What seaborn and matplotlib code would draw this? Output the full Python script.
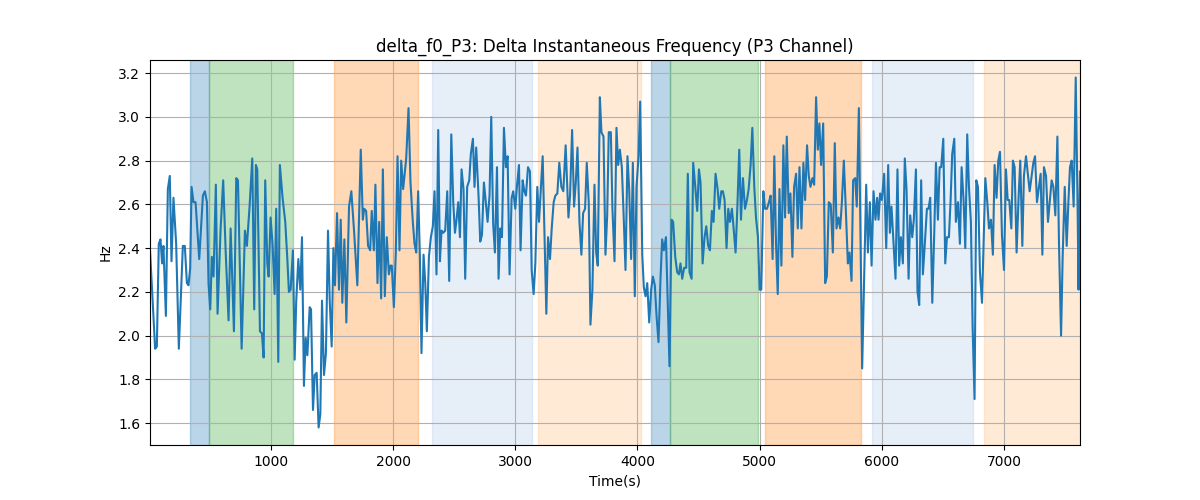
import numpy as np
import pandas as pd
import seaborn as sns
import matplotlib
matplotlib.use("Agg")
import matplotlib.pyplot as plt

# values (time in s, delta f0 in Hz)
times = [
    10, 52, 66, 82, 96, 109, 120, 140, 156, 172, 186, 202, 224, 246, 279, 295, 312, 325, 339, 350,
    366, 383, 413, 443, 459, 476, 489, 503, 516, 530, 549, 563, 588, 609, 629, 653, 670, 697, 716, 730,
    760, 787, 803, 825, 847,
    863, 877, 888, 910, 926, 940, 953, 970, 981, 997, 1013, 1030, 1043, 1060, 1073, 1095, 1117, 1134, 1147, 1161,
    1180, 1194, 1207, 1224, 1240, 1254, 1270, 1284, 1298, 1317, 1328, 1344, 1358, 1374, 1390, 1404, 1418, 1434, 1450, 1467,
    1481, 1497, 1511, 1524, 1541, 1557, 1571, 1584, 1601, 1617, 1639, 1658, 1680, 1707,
    1735, 1752, 1763, 1779, 1795, 1812, 1825, 1842, 1855, 1872, 1886, 1902, 1916, 1932, 1948, 1965, 1978, 1989, 2006, 2022,
    2036, 2052, 2066, 2082, 2107, 2126, 2142, 2161, 2175, 2189, 2205, 2219, 2232, 2249, 2263, 2276, 2293, 2309, 2325, 2339,
    2355, 2369, 2383, 2396, 2410, 2426, 2443, 2459, 2476, 2492, 2506, 2519, 2533, 2547, 2560,
    2576, 2590, 2606, 2623, 2636, 2653, 2666, 2680, 2699, 2713, 2727, 2743, 2757, 2773, 2789, 2803, 2819, 2833, 2850, 2863,
    2877, 2891, 2907, 2923, 2937, 2953, 2970, 2983, 3000, 3013, 3030, 3043, 3060, 3074, 3087, 3104, 3120, 3134, 3150, 3164,
    3180, 3194, 3224, 3237, 3254, 3268, 3284, 3298, 3314, 3328, 3344, 3360, 3377, 3393, 3412,
    3435, 3448, 3465, 3481, 3495, 3509, 3525, 3541, 3555, 3571, 3585, 3601, 3615, 3631, 3648, 3662, 3675, 3692, 3705, 3722,
    3738, 3752, 3765, 3782, 3795, 3812, 3828, 3842, 3856, 3872, 3886, 3902, 3918, 3932, 3948, 3962, 3978, 3992, 4009, 4022,
    4039, 4052, 4066, 4080, 4096, 4112, 4126, 4142, 4156, 4172, 4189, 4202, 4216, 4233, 4249, 4262,
    4279, 4292, 4309, 4325, 4339, 4352, 4366, 4382, 4399, 4412, 4426, 4443, 4456, 4473, 4489, 4503, 4516, 4533, 4549, 4563,
    4579, 4593, 4609, 4623, 4639, 4656, 4669, 4686, 4699, 4713, 4729, 4743, 4757, 4773, 4787, 4803, 4817, 4833, 4847, 4863,
    4880, 4896, 4910, 4926, 4940, 4956, 4970, 4986, 5000, 5013, 5030, 5044, 5060, 5076, 5090, 5106, 5120,
    5134, 5148, 5162, 5178, 5194, 5208, 5222, 5238, 5252, 5268, 5282, 5298, 5312, 5326, 5342, 5358, 5372, 5388, 5402, 5416,
    5432, 5446, 5462, 5476, 5489, 5503, 5520, 5536, 5550, 5566, 5582, 5599, 5615, 5629, 5645, 5659, 5673, 5689, 5705, 5722,
    5735, 5752, 5765, 5782, 5795, 5812, 5826, 5839, 5856, 5872, 5886, 5902, 5916, 5932, 5948, 5962,
    5973, 5986, 6000, 6019, 6036, 6052, 6066, 6079, 6096, 6112, 6128, 6142, 6156, 6172, 6188, 6202, 6219, 6232, 6249, 6262,
    6279, 6292, 6306, 6322, 6336, 6352, 6369, 6382, 6396, 6413, 6429, 6443, 6459, 6473, 6486, 6503, 6519, 6533, 6549, 6563,
    6576, 6593, 6606, 6623, 6639, 6653, 6669, 6683, 6699, 6713, 6729, 6743, 6759, 6773, 6787, 6803, 6820,
    6847, 6863, 6877, 6893, 6909, 6923, 6939, 6953, 6967, 6983, 7000, 7016, 7030, 7043, 7060, 7073, 7087, 7103, 7120, 7133,
    7150, 7163, 7180, 7193, 7210, 7224, 7240, 7254, 7270, 7284, 7300, 7314, 7327, 7344, 7360, 7374, 7390, 7404, 7420, 7437,
    7450, 7467, 7480, 7497, 7513, 7527, 7540, 7554, 7570, 7587, 7603, 7610, 7622,
]
delta_f0 = [
    2.39, 1.94, 1.95, 2.42, 2.44, 2.33, 2.41, 2.09, 2.67, 2.73, 2.34, 2.63, 2.42, 1.94, 2.41, 2.41, 2.24, 2.23, 2.31, 2.68,
    2.61, 2.61, 2.35, 2.64, 2.66, 2.61, 2.24, 2.12, 2.36, 2.27, 2.69, 2.10, 2.49, 2.71, 2.39, 2.07, 2.49, 2.02, 2.72, 2.71,
    1.94, 2.48, 2.41, 2.59, 2.81,
    2.12, 2.78, 2.76, 2.02, 2.01, 1.90, 2.71, 2.33, 2.27, 2.54, 2.42, 2.19, 2.58, 1.88, 2.78, 2.63, 2.52, 2.35, 2.20, 2.21,
    2.39, 1.89, 2.16, 2.35, 2.21, 2.45, 1.77, 1.99, 1.91, 2.13, 2.12, 1.66, 1.82, 1.83, 1.58, 1.64, 2.16, 1.82, 1.92, 2.48,
    2.16, 1.95, 2.40, 2.23, 2.56, 2.21, 2.53, 2.15, 2.44, 2.06, 2.59, 2.66, 2.48, 2.23,
    2.85, 2.53, 2.58, 2.57, 2.41, 2.39, 2.57, 2.39, 2.69, 2.24, 2.52, 2.17, 2.76, 2.18, 2.45, 2.28, 2.32, 2.32, 2.13, 2.38,
    2.82, 2.39, 2.80, 2.67, 2.81, 3.04, 2.70, 2.52, 2.42, 2.38, 2.66, 2.36, 1.92, 2.37, 2.24, 2.02, 2.36, 2.45, 2.50, 2.66,
    2.28, 2.94, 2.34, 2.48, 2.47, 2.48, 2.66, 2.25, 2.92, 2.61, 2.47, 2.53, 2.61, 2.45, 2.76,
    2.67, 2.26, 2.68, 2.71, 2.83, 2.90, 2.68, 2.86, 2.64, 2.43, 2.46, 2.70, 2.62, 2.52, 2.64, 3.00, 2.51, 2.38, 2.77, 2.26,
    2.49, 2.45, 2.95, 2.77, 2.82, 2.28, 2.63, 2.66, 2.58, 2.68, 2.78, 2.39, 2.71, 2.66, 2.64, 2.77, 2.75, 2.30, 2.19, 2.33,
    2.68, 2.52, 2.82, 2.50, 2.10, 2.45, 2.35, 2.49, 2.61, 2.64, 2.65, 2.79, 2.68, 2.66, 2.87,
    2.54, 2.64, 2.94, 2.59, 2.70, 2.86, 2.52, 2.37, 2.56, 2.58, 2.79, 2.61, 2.05, 2.21, 2.69, 2.38, 2.32, 3.09, 2.93, 2.91,
    2.37, 2.55, 2.93, 2.93, 2.58, 2.34, 2.95, 2.78, 2.85, 2.77, 2.56, 2.30, 2.82, 2.67, 2.35, 2.79, 2.18, 2.68, 2.82, 3.07,
    2.37, 2.22, 2.18, 2.24, 2.06, 2.21, 2.27, 2.23, 2.09, 1.97, 2.27, 2.44, 2.39, 2.45, 2.12, 1.86,
    2.53, 2.52, 2.36, 2.29, 2.28, 2.33, 2.26, 2.31, 2.31, 2.74, 2.29, 2.26, 2.79, 2.68, 2.57, 2.76, 2.70, 2.33, 2.45, 2.50,
    2.41, 2.39, 2.57, 2.52, 2.74, 2.67, 2.58, 2.66, 2.66, 2.62, 2.40, 2.58, 2.52, 2.58, 2.49, 2.38, 2.58, 2.85, 2.53, 2.72,
    2.58, 2.62, 2.67, 2.78, 2.95, 2.68, 2.54, 2.45, 2.21, 2.21, 2.66, 2.58, 2.58, 2.61, 2.64, 2.35, 2.82,
    2.42, 2.19, 2.67, 2.32, 2.87, 2.54, 2.91, 2.56, 2.65, 2.36, 2.68, 2.74, 2.49, 2.77, 2.49, 2.79, 2.62, 2.87, 2.73, 2.68,
    2.72, 2.69, 3.09, 2.85, 2.97, 2.78, 2.97, 2.24, 2.27, 2.61, 2.60, 2.38, 2.88, 2.49, 2.54, 2.49, 2.61, 2.80, 2.58, 2.33,
    2.38, 2.25, 2.71, 2.72, 2.59, 3.04, 2.43, 1.85, 2.29, 2.69, 2.38, 2.61, 2.32, 2.66, 2.53, 2.63,
    2.53, 2.65, 2.62, 2.74, 2.40, 2.78, 2.47, 2.59, 2.42, 2.26, 2.76, 2.32, 2.45, 2.33, 2.81, 2.67, 2.26, 2.55, 2.45, 2.53,
    2.76, 2.20, 2.14, 2.71, 2.28, 2.42, 2.58, 2.58, 2.63, 2.15, 2.47, 2.79, 2.53, 2.77, 2.77, 2.90, 2.33, 2.45, 2.45, 2.62,
    2.83, 2.90, 2.52, 2.61, 2.42, 2.77, 2.62, 2.40, 2.92, 2.68, 2.52, 2.04, 1.71, 2.71, 2.68, 2.29, 2.15,
    2.72, 2.61, 2.49, 2.53, 2.37, 2.78, 2.63, 2.80, 2.84, 2.46, 2.30, 2.76, 2.62, 2.62, 2.49, 2.80, 2.77, 2.38, 2.64, 2.80,
    2.41, 2.73, 2.82, 2.75, 2.66, 2.72, 2.79, 2.82, 2.61, 2.67, 2.74, 2.37, 2.77, 2.73, 2.52, 2.61, 2.71, 2.68, 2.55, 2.91,
    2.42, 2.00, 2.36, 2.68, 2.41, 2.61, 2.77, 2.80, 2.59, 3.18, 2.56, 2.21, 2.75,
]

# shaded segments
span_start = [336, 492, 1516, 2320, 3189, 4107, 4270, 5041, 5918, 6836]
span_end = [492, 1180, 2205, 3139, 4025, 4270, 4984, 5828, 6746, 7622]
span_color = ["tab:blue", "tab:green", "tab:orange", "#aec7e8", "#ffbb78",
              "tab:blue", "tab:green", "tab:orange", "#aec7e8", "#ffbb78"]
span_alpha = [0.3] * len(span_start)

df = pd.DataFrame({"time": times, "hz": delta_f0})

fig, ax = plt.subplots(figsize=(12, 5), dpi=100)

for s, e, c, a in zip(span_start, span_end, span_color, span_alpha):
    ax.axvspan(s, e, color=c, alpha=a)

sns.lineplot(data=df, x="time", y="hz", ax=ax, color="tab:blue", linewidth=1.5,
             estimator=None, sort=False)

ax.set_xlim(df["time"].min(), df["time"].max())
ax.grid(True)
ax.set_title("delta_f0_P3: Delta Instantaneous Frequency (P3 Channel)")
ax.set_xlabel("Time(s)")
ax.set_ylabel("Hz")

plt.savefig("out.png")
